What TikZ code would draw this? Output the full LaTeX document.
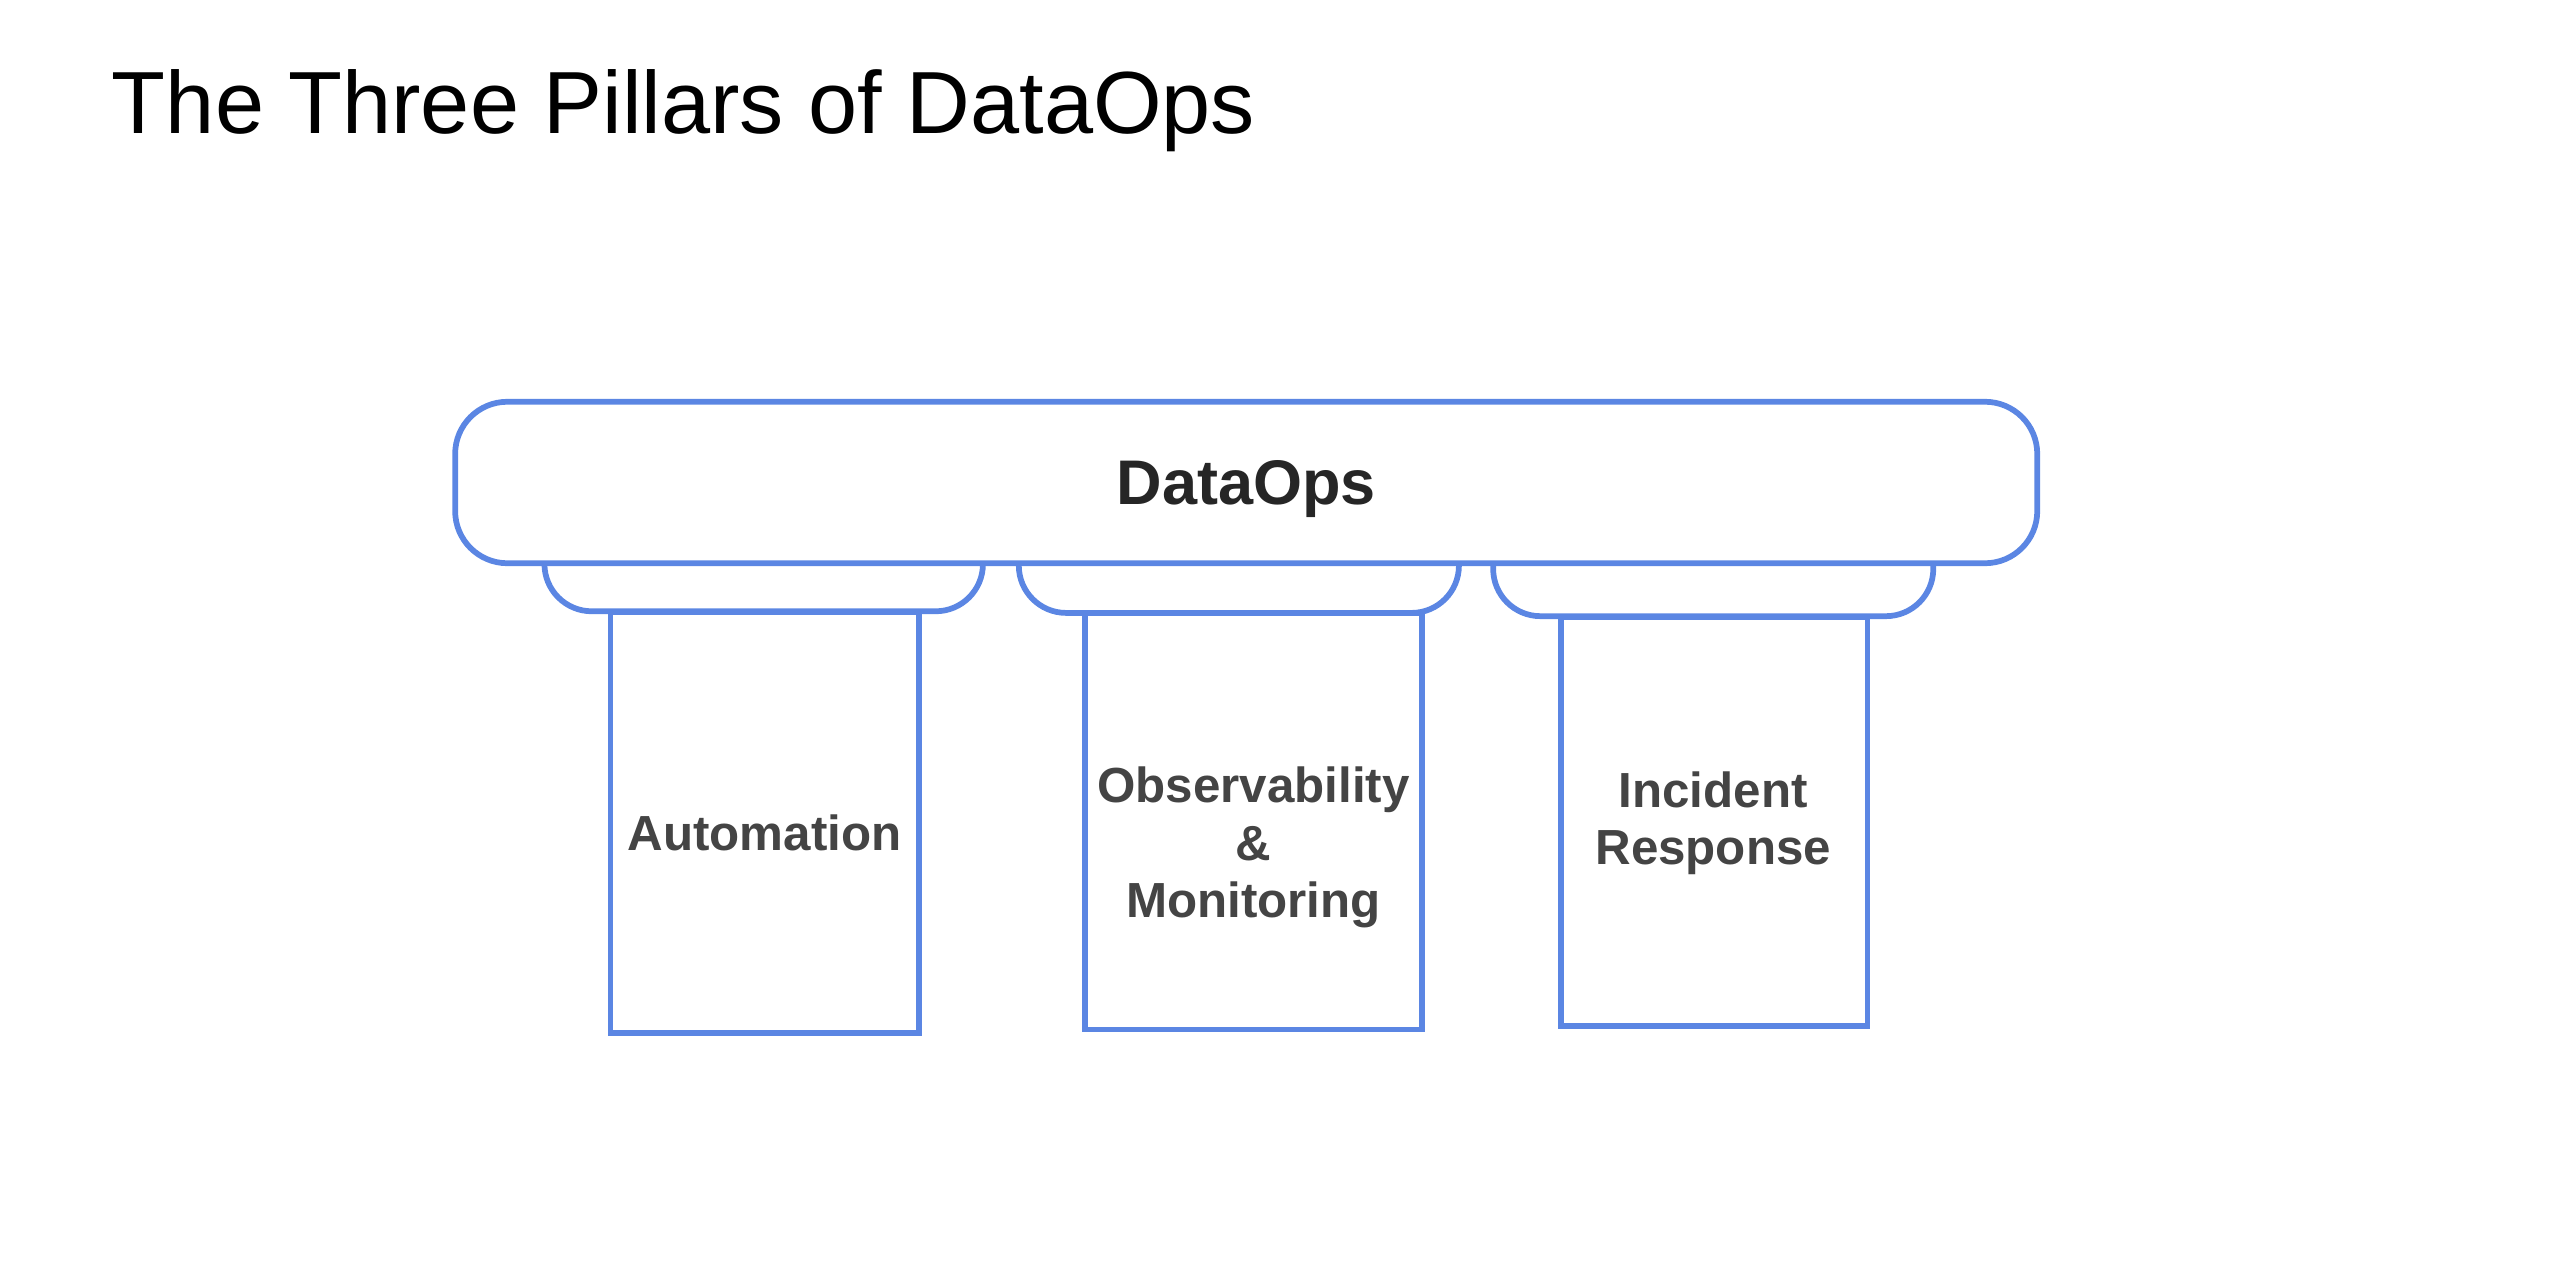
\documentclass[tikz,border=0pt]{standalone}
\usepackage{fontspec}
\setmainfont{Liberation Sans}
\usetikzlibrary{positioning}
\definecolor{pillarblue}{HTML}{5B86E3}
\definecolor{labelgray}{HTML}{444444}
\tikzset{
 pillar/.style = {draw = pillarblue, line width = 1pt, fill = white},
 pillarlabel/.style = {align = center, text = labelgray, font = \fontsize{8.6}{10}\selectfont\bfseries},
 capital/.style = {draw = pillarblue, line width = 1pt, fill = white, rounded corners = 0.29cm}
}
\begin{document}
\begin{tikzpicture}[x = 0.01cm, y = -0.01cm]
 \useasboundingbox (0,0) rectangle (1568,779);
 \node[anchor = base west, inner sep = 0pt, font = \fontsize{15.4}{18}\selectfont] (title) at (68,82) {The Three Pillars of DataOps};
 % 柱頭(capital)
 \draw[capital] (334,346) -- (334,375) -- (603,375) -- (603,346);
 \draw[capital] (625,346) -- (625,376) -- (895,376) -- (895,346);
 \draw[capital] (916,346) -- (916,378) -- (1186,378) -- (1186,346);
 % 柱
 \node[pillar, minimum width = 1.89cm, minimum height = 2.58cm] (auto) at (469,504.5) {};
 \node[pillar, minimum width = 2.07cm, minimum height = 2.55cm] (obs) at (769,504) {};
 \node[pillar, minimum width = 1.88cm, minimum height = 2.51cm] (inc) at (1051.5,504) {};
 \node[pillarlabel] (autolabel) at (469,511) {Automation};
 \node[pillarlabel] (obslabel) at (769,520) {Observability\\\&\\Monitoring};
 \node[pillarlabel] (inclabel) at (1051,505) {Incident\\Response};
 % 梁
 \node[draw = pillarblue, line width = 1pt, fill = white, rounded corners = 0.32cm,
 minimum width = 9.70cm, minimum height = 0.99cm, text = black!85, text depth = 0pt,
 font = \fontsize{11}{13}\selectfont\bfseries] (dataops) at (764.5,296) {DataOps};
\end{tikzpicture}
\end{document}
